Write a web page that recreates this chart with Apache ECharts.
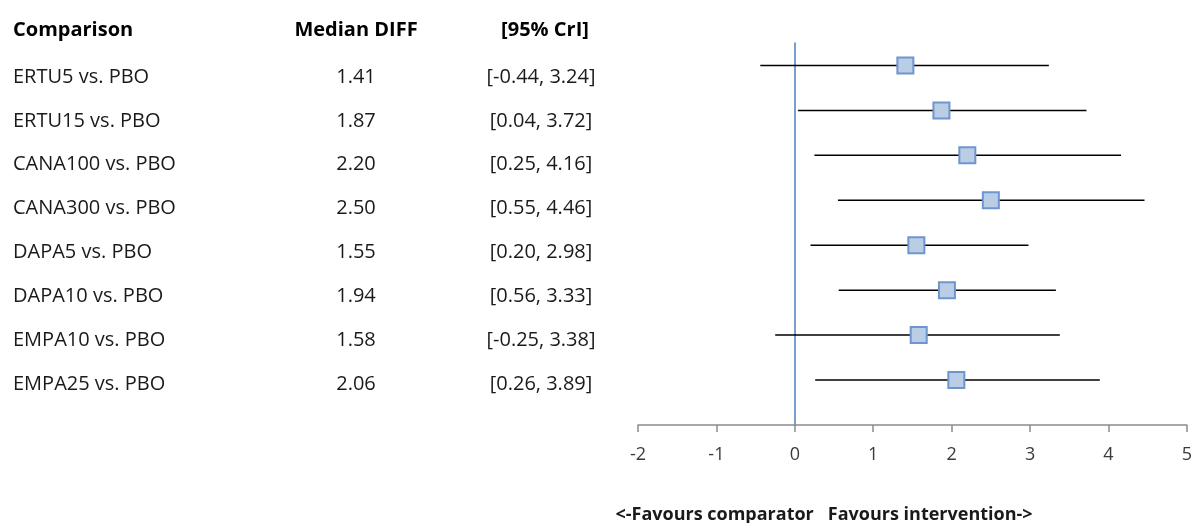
<!DOCTYPE html>
<html><head><meta charset="utf-8">
<script src="https://cdn.jsdelivr.net/npm/echarts@6/dist/echarts.min.js"></script>
<style>html,body{margin:0;padding:0;background:#fff}#c{width:1195px;height:523px}</style>
</head><body><div id="c"></div>
<script>
const comparisons = ['ERTU5 vs. PBO','ERTU15 vs. PBO','CANA100 vs. PBO','CANA300 vs. PBO','DAPA5 vs. PBO','DAPA10 vs. PBO','EMPA10 vs. PBO','EMPA25 vs. PBO'];
const medians = [1.41, 1.87, 2.20, 2.50, 1.55, 1.94, 1.58, 2.06];
const lower = [-0.44, 0.04, 0.25, 0.55, 0.20, 0.56, -0.25, 0.26];
const upper = [3.24, 3.72, 4.16, 4.46, 2.98, 3.33, 3.38, 3.89];
const xTicks = [-2, -1, 0, 1, 2, 3, 4, 5];
const headers = ['Comparison', 'Median DIFF', '[95% CrI]'];
const footer = '<-Favours comparator   Favours intervention->';

const FONT = '"Open Sans"';
const rows = comparisons.map((c, i) => i + 1);
const chart = echarts.init(document.getElementById('c'));

chart.setOption({
  animation: false,
  textStyle: { fontFamily: 'Open Sans' },
  grid: [
    { left: 638, right: 7, top: 43, bottom: 98 },
    { left: 0, width: 630, top: 55, bottom: 95 }
  ],
  xAxis: [
    { gridIndex: 0, type: 'value', min: xTicks[0], max: xTicks[xTicks.length - 1], interval: 1,
      splitLine: { show: false },
      axisLine: { show: true, lineStyle: { color: '#8c8c8c', width: 1.5 } },
      axisTick: { show: true, length: 7, lineStyle: { color: '#8c8c8c', width: 1.5 } },
      axisLabel: { color: '#3a3a3a', fontSize: 18, margin: 21, fontFamily: 'Open Sans' }
    },
    { gridIndex: 1, type: 'value', min: 0, max: 630, show: false }
  ],
  yAxis: [
    { gridIndex: 0, type: 'value', min: 0.5, max: 9, inverse: true,
      splitLine: { show: false }, axisLabel: { show: false }, axisTick: { show: false },
      axisLine: { show: true, onZero: true, lineStyle: { color: '#4a7ebb', width: 1.5 } } },
    { gridIndex: 1, type: 'value', min: 0.5, max: 9, inverse: true, show: false }
  ],
  graphic: [
    { type: 'text', x: 13, y: 30, style: { text: headers[0], font: 'bold 20px ' + FONT, fill: '#000', align: 'left', verticalAlign: 'middle' } },
    { type: 'text', x: 356, y: 30, style: { text: headers[1], font: 'bold 20px ' + FONT, fill: '#000', align: 'center', verticalAlign: 'middle' } },
    { type: 'text', x: 545, y: 30, style: { text: headers[2], font: 'bold 20px ' + FONT, fill: '#000', align: 'center', verticalAlign: 'middle' } },
    { type: 'text', x: 824, y: 515, style: { text: footer, font: 'bold 18px ' + FONT, fill: '#1a1a1a', align: 'center', verticalAlign: 'middle' } }
  ],
  series: [
    { type: 'custom', xAxisIndex: 0, yAxisIndex: 0, clip: false,
      data: rows.map((r, i) => [lower[i], upper[i], r]),
      renderItem: function (params, api) {
        const a = api.coord([api.value(0), api.value(2)]);
        const b = api.coord([api.value(1), api.value(2)]);
        return { type: 'line', shape: { x1: a[0], y1: a[1], x2: b[0], y2: b[1] },
          style: { stroke: '#000', lineWidth: 1.5 } };
      }, z: 2 },
    { type: 'scatter', xAxisIndex: 0, yAxisIndex: 0,
      data: rows.map((r, i) => [medians[i], r]),
      symbol: 'rect', symbolSize: 16,
      itemStyle: { color: '#b9cde5', borderColor: '#6f95cf', borderWidth: 2, opacity: 1 }, z: 3 },
    { type: 'custom', xAxisIndex: 1, yAxisIndex: 1, clip: false,
      data: rows.map((r, i) => [r, i]),
      renderItem: function (params, api) {
        const i = api.value(1);
        const p = api.coord([0, api.value(0)]);
        const y = p[1];
        const f = '20px ' + FONT;
        return { type: 'group', children: [
          { type: 'text', style: { x: 13, y: y, text: comparisons[i], font: f, fill: '#1a1a1a', align: 'left', verticalAlign: 'middle' } },
          { type: 'text', style: { x: 356, y: y, text: medians[i].toFixed(2), font: f, fill: '#1a1a1a', align: 'center', verticalAlign: 'middle' } },
          { type: 'text', style: { x: 541, y: y, text: '[' + lower[i].toFixed(2) + ', ' + upper[i].toFixed(2) + ']', font: f, fill: '#1a1a1a', align: 'center', verticalAlign: 'middle' } }
        ]};
      } }
  ]
});
</script></body></html>
